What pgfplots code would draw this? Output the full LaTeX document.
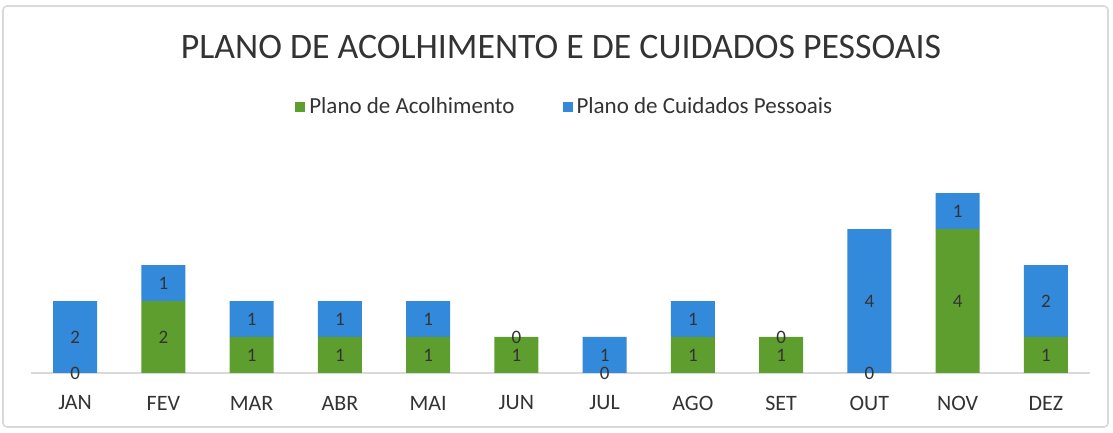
\documentclass[border=0pt]{standalone}
\usepackage{fontspec}
\setmainfont{Carlito}
\usepackage{pgfplots}
\usepackage{pgfplotstable}
\pgfplotsset{compat=1.18}
\definecolor{acolh}{HTML}{5E9E2E}
\definecolor{cuid}{HTML}{3389DA}
\definecolor{txt}{HTML}{333333}
\definecolor{axisgray}{HTML}{D9D9D9}

\pgfplotstableread{
x g b
0 0 2
1 2 1
2 1 1
3 1 1
4 1 1
5 1 0
6 0 1
7 1 1
8 1 0
9 0 4
10 4 1
11 1 2
}\meses

\tikzset{rotfonte/.style={font=\fontsize{9.5pt}{10pt}\selectfont, text=txt,
      anchor=center, inner sep=0pt}}

\pgfplotsset{
  geometria/.style={
    at={(15.5pt,30pt)}, anchor=south west,
    scale only axis, width=529.5pt, height=108pt,
    xmin=-0.5, xmax=11.5, ymin=0, ymax=6,
    axis y line=none,
    clip=false,
  },
  baseaxis/.style={geometria, ybar stacked, bar width=22pt},
  rotulos/.style={
    draw=none, fill=none,
    visualization depends on={rawy \as \rawy},
    nodes near coords={\pgfmathprintnumber[assume math mode=true]{\rawy}},
    every node near coord/.append style={rotfonte},
  },
  zeros/.style={
    only marks, mark=none,
    nodes near coords={0},
    every node near coord/.append style={rotfonte},
  },
}

\begin{document}
\begin{tikzpicture}
\useasboundingbox (0,0) rectangle (556.5pt,216.5pt);
\draw[axisgray, line width=0.8pt, rounded corners=2pt] (1.5pt,3pt) rectangle (554pt,213.5pt);

\begin{axis}[
  baseaxis,
  axis x line*=bottom,
  x axis line style={axisgray, line width=0.6pt, -},
  xtick=data,
  xticklabels={JAN,FEV,MAR,ABR,MAI,JUN,JUL,AGO,SET,OUT,NOV,DEZ},
  major tick length=0pt,
  xticklabel style={font=\fontsize{11pt}{13pt}\selectfont, text=txt, anchor=center, yshift=-15pt},
  legend style={at={(0.505,1.231)}, anchor=center, draw=none, fill=none,
    legend columns=2, font=\fontsize{11.5pt}{13pt}\selectfont, text=txt,
    /tikz/every even column/.append style={column sep=22pt},
    legend cell align=left},
  legend image code/.code={\fill[#1,draw=none] (0pt,-2.5pt) rectangle (5pt,2.5pt);},
]
\addplot[fill=acolh, draw=none] table[x=x, y=g] {\meses};
\addplot[fill=cuid, draw=none] table[x=x, y=b] {\meses};
\legend{Plano de Acolhimento, Plano de Cuidados Pessoais}
\end{axis}

\begin{axis}[baseaxis, axis x line=none]
\addplot[rotulos] table[x=x, y=g] {\meses};
\addplot[rotulos] table[x=x, y=b] {\meses};
\end{axis}

% zero-valued segments get their label at the stack height
\begin{axis}[geometria, axis x line=none]
\addplot[zeros] table[x=x, y expr={\thisrow{g}==0 ? 0 : nan}] {\meses};
\addplot[zeros] table[x=x, y expr={\thisrow{b}==0 ? \thisrow{g} : nan}] {\meses};
\end{axis}

\node[text=txt, font=\fontsize{17.9pt}{20pt}\selectfont] at (280.5pt,193pt) {PLANO DE ACOLHIMENTO E DE CUIDADOS PESSOAIS};
\end{tikzpicture}
\end{document}
